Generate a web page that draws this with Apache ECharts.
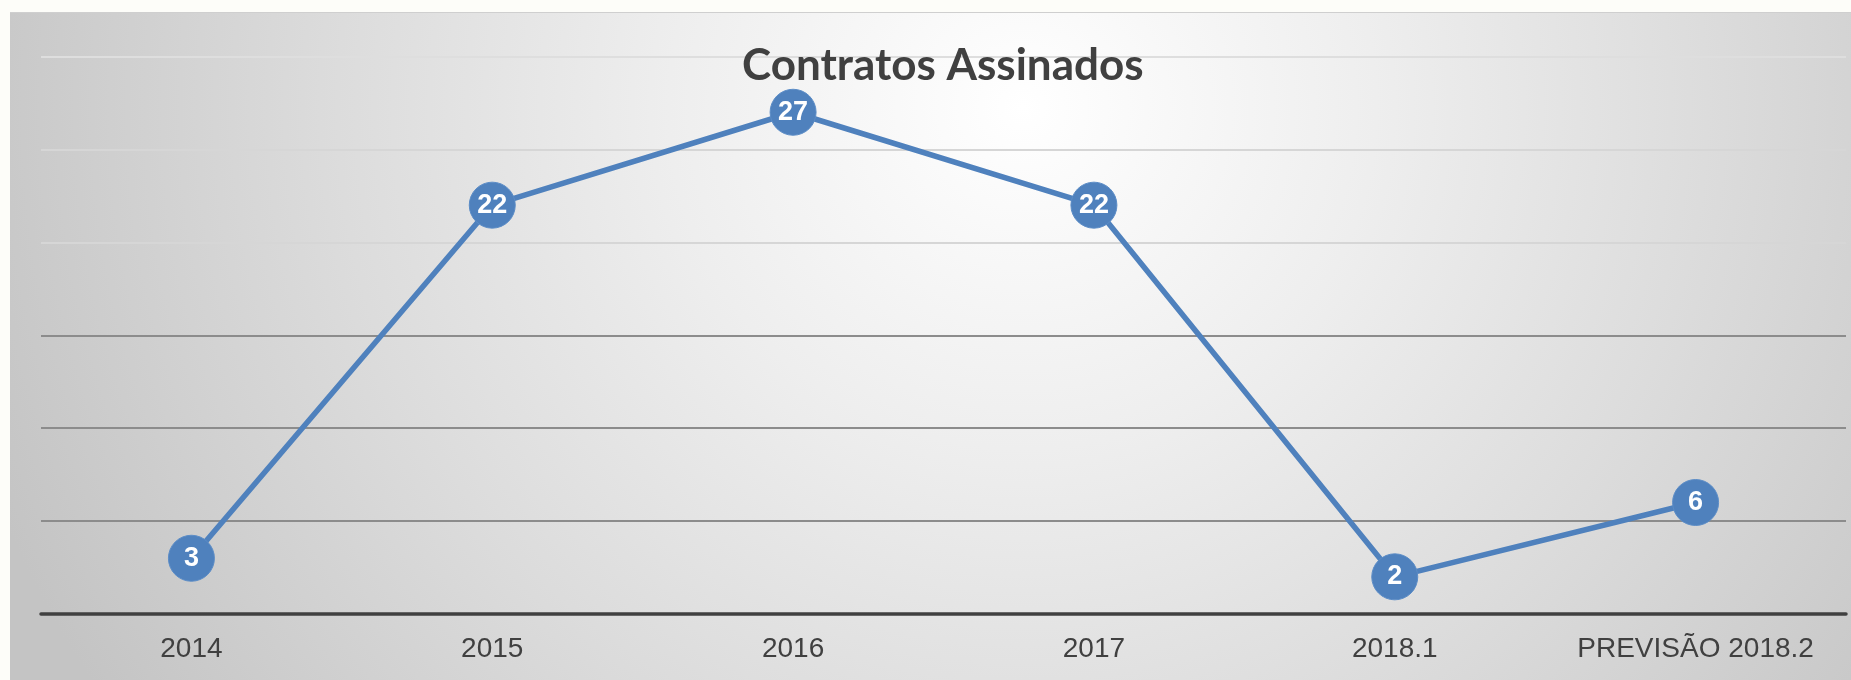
<!DOCTYPE html>
<html>
<head>
<meta charset="utf-8">
<script src="https://cdn.jsdelivr.net/npm/echarts@6/dist/echarts.min.js"></script>
<style>
    body { margin: 0; background: #fdfdf9; }
    #panel {
        position: absolute; left: 10px; top: 12px; width: 1841px; height: 668px;
        border-top: 1px solid #cfcfcf;
        background: radial-gradient(ellipse 60% 160% at 55% 14%, #ffffff 0%, #eeeeee 32%, #dcdcdc 62%, #c4c4c4 100%);
    }
    #main { position: absolute; left: 0; top: 0; width: 1851px; height: 680px; }
</style>
</head>
<body>
<div id="panel"></div>
<div id="main"></div>

<script type="text/javascript">
    // dados do gráfico
    var categorias = ['2014', '2015', '2016', '2017', '2018.1', 'PREVISÃO 2018.2'];
    var contratos = [3, 22, 27, 22, 2, 6];
    var yMax = 30;
    var yPasso = 5;

    var myChart = echarts.init(document.getElementById('main'));

    var option = {
        backgroundColor: 'transparent',
        title: {
            text: 'Contratos Assinados',
            left: 737,
            top: 39,
            textStyle: {
                fontFamily: 'Lato',
                fontWeight: 'bold',
                fontSize: 44,
                color: '#404040'
            }
        },
        grid: {
            left: 41,
            right: 5,
            top: 56.5,
            bottom: 66
        },
        xAxis: {
            type: 'category',
            data: categorias,
            boundaryGap: true,
            axisTick: { show: false },
            axisLine: { lineStyle: { color: '#404040', width: 3.5 } },
            axisLabel: {
                interval: 0,
                hideOverlap: false,
                fontFamily: 'Liberation Sans',
                fontSize: 28,
                color: '#404040',
                margin: 21
            }
        },
        yAxis: {
            type: 'value',
            min: 0,
            max: yMax,
            interval: yPasso,
            axisLabel: { show: false },
            axisLine: { show: false },
            axisTick: { show: false },
            splitLine: {
                lineStyle: {
                    width: 2,
                    color: ['#404040', '#8c8c8c', '#8c8c8c', '#8c8c8c', '#d6d6d6', '#d6d6d6', '#dedede']
                }
            }
        },
        series: [{
            name: 'Contratos',
            type: 'line',
            data: contratos,
            symbol: 'circle',
            symbolSize: 46,
            lineStyle: { color: '#4f81bd', width: 5.5 },
            itemStyle: { color: '#4f81bd', borderColor: '#5b8cc6', borderWidth: 1 },
            label: {
                show: true,
                position: 'inside',
                color: '#ffffff',
                fontFamily: 'Liberation Sans',
                fontWeight: 'bold',
                fontSize: 27
            },
            z: 3
        }]
    };

    myChart.setOption(option);
</script>
</body>
</html>
